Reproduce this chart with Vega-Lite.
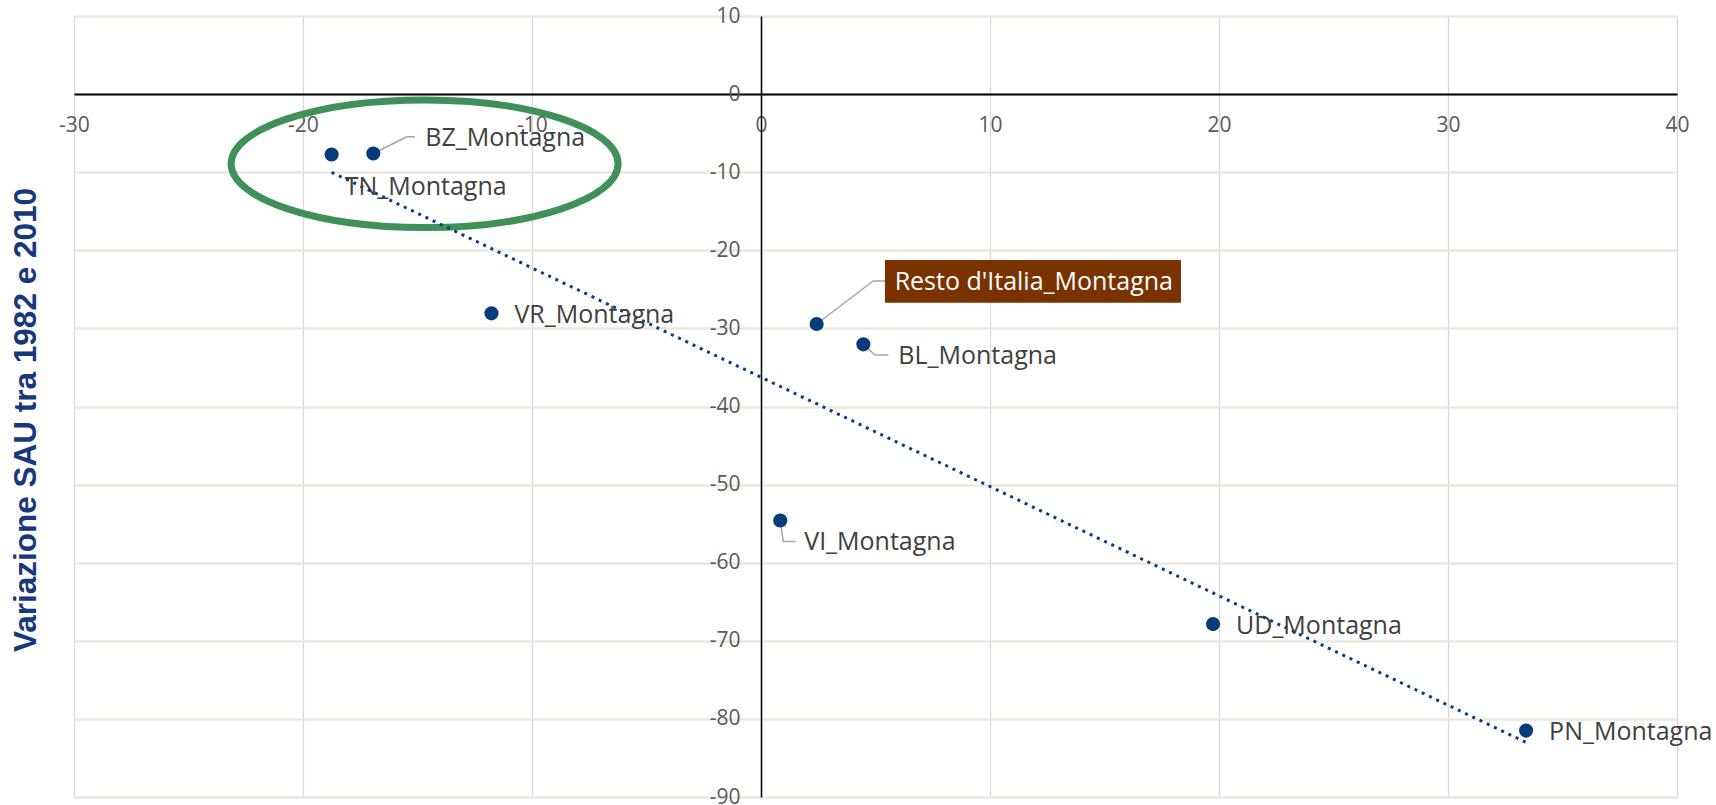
{
  "$schema": "https://vega.github.io/schema/vega-lite/v6.json",
  "width": 1603,
  "height": 781,
  "autosize": {"type": "none"},
  "padding": {"left": 74, "top": 16, "right": 39, "bottom": 8},
  "background": "white",
  "config": {
    "view": {"stroke": null},
    "text": {"font": "Open Sans", "fontSize": 25, "color": "#404040", "align": "left", "baseline": "middle"}
  },
  "datasets": {
    "pts": [
      {"name": "TN_Montagna", "var_x": -18.75, "var_sau": -7.73},
      {"name": "BZ_Montagna", "var_x": -16.93, "var_sau": -7.60},
      {"name": "VR_Montagna", "var_x": -11.77, "var_sau": -28.07},
      {"name": "Resto d'Italia_Montagna", "var_x": 2.43, "var_sau": -29.44},
      {"name": "BL_Montagna", "var_x": 4.47, "var_sau": -32.04},
      {"name": "VI_Montagna", "var_x": 0.84, "var_sau": -54.6},
      {"name": "UD_Montagna", "var_x": 19.74, "var_sau": -67.86},
      {"name": "PN_Montagna", "var_x": 33.41, "var_sau": -81.5}
    ],
    "ann": [{"var_x": -14.69, "var_sau": -8.92}]
  },
  "data": {"name": "pts"},
  "encoding": {
    "x": {"field": "var_x", "type": "quantitative", "scale": {"domain": [-30, 40], "nice": false, "zero": false}, "axis": null},
    "y": {"field": "var_sau", "type": "quantitative", "scale": {"domain": [-90, 10], "nice": false, "zero": false}, "axis": null}
  },
  "layer": [
    {
      "data": {"name": "ann"},
      "mark": {"type": "point", "shape": "M-1,0C-1,-0.182,-0.552,-0.33,0,-0.33C0.552,-0.33,1,-0.182,1,0C1,0.182,0.552,0.33,0,0.33C-0.552,0.33,-1,0.182,-1,0Z", "filled": false, "color": "#3f9159", "strokeWidth": 7, "size": 149769, "opacity": 1},
      "encoding": {
        "x": {"field": "var_x", "type": "quantitative", "scale": {"domain": [-30, 40], "nice": false, "zero": false},
          "axis": {"orient": "bottom", "grid": true, "gridColor": "#d9d9d9", "gridWidth": 1.3, "labels": false, "ticks": false, "domain": false, "title": null, "values": [-30, -20, -10, 0, 10, 20, 30, 40]}},
        "y": {"field": "var_sau", "type": "quantitative", "scale": {"domain": [-90, 10], "nice": false, "zero": false},
          "axis": {"orient": "left", "grid": true, "gridColor": "#ebe8dd", "gridWidth": 2.5, "labels": false, "ticks": false, "domain": false, "values": [-90, -80, -70, -60, -50, -40, -30, -20, -10, 0, 10],
            "title": "Variazione SAU tra 1982 e 2010", "titleFont": "Liberation Sans", "titleFontSize": 31.5, "titleFontWeight": "bold", "titleColor": "#17387a", "titleX": -48, "titleY": 403.5, "titleAngle": 270, "titleAlign": "center", "titleBaseline": "middle"}}
      }
    },
    {
      "transform": [{"regression": "var_sau", "on": "var_x"}],
      "mark": {"type": "line", "color": "#0a3d7d", "strokeWidth": 3, "strokeDash": [3, 5]},
      "encoding": {}
    },
    {
      "transform": [{"filter": {"field": "name", "equal": "BZ_Montagna"}}],
      "mark": {"type": "point", "shape": "M0,0L0.668,-0.332L0.834,-0.332", "filled": false, "color": "#a6a6a6", "strokeWidth": 1.5, "size": 10000, "opacity": 1}
    },
    {
      "transform": [{"filter": {"field": "name", "equal": "Resto d'Italia_Montagna"}}],
      "mark": {"type": "point", "shape": "M0,0L1.132,-0.86L1.386,-0.86", "filled": false, "color": "#a6a6a6", "strokeWidth": 1.5, "size": 10000, "opacity": 1}
    },
    {
      "transform": [{"filter": {"field": "name", "equal": "BL_Montagna"}}],
      "mark": {"type": "point", "shape": "M0,0L0.234,0.214L0.5,0.214", "filled": false, "color": "#a6a6a6", "strokeWidth": 1.5, "size": 10000, "opacity": 1}
    },
    {
      "transform": [{"filter": {"field": "name", "equal": "VI_Montagna"}}],
      "mark": {"type": "point", "shape": "M0,0L0.06,0.42L0.306,0.42", "filled": false, "color": "#a6a6a6", "strokeWidth": 1.5, "size": 10000, "opacity": 1}
    },
    {
      "mark": {"type": "circle", "size": 200, "color": "#073b7a", "opacity": 1},
      "encoding": {
        "x": {"field": "var_x", "type": "quantitative", "scale": {"domain": [-30, 40], "nice": false, "zero": false},
          "axis": {"orient": "bottom", "offset": {"expr": "scale('y', 0) - height"}, "grid": false, "domain": true, "domainColor": "#000000", "domainWidth": 2, "ticks": false, "tickSize": 0, "labelFont": "Open Sans", "labelFontSize": 21, "labelColor": "#595959", "labelPadding": 31, "labelBaseline": "middle", "labelFlush": false, "labelOverlap": false, "labelExpr": "datum.value + ''", "values": [-30, -20, -10, 0, 10, 20, 30, 40], "title": null}},
        "y": {"field": "var_sau", "type": "quantitative", "scale": {"domain": [-90, 10], "nice": false, "zero": false},
          "axis": {"orient": "left", "offset": {"expr": "-scale('x', 0)"}, "grid": false, "domain": true, "domainColor": "#000000", "domainWidth": 1.5, "ticks": false, "tickSize": 0, "labelFont": "Open Sans", "labelFontSize": 21, "labelColor": "#595959", "labelPadding": 21, "labelOverlap": false, "labelFlush": false, "labelExpr": "datum.value + ''", "values": [-90, -80, -70, -60, -50, -40, -30, -20, -10, 0, 10], "title": null}}
      }
    },
    {
      "transform": [{"filter": {"field": "name", "equal": "Resto d'Italia_Montagna"}}],
      "mark": {"type": "point", "shape": "M-1,-0.144H1V0.144H-1Z", "filled": true, "color": "#7a3300", "strokeWidth": 0, "size": 87616, "opacity": 1, "xOffset": 216.3, "yOffset": -42.7}
    },
    {
      "transform": [{"filter": {"field": "name", "oneOf": ["VR_Montagna", "UD_Montagna", "PN_Montagna"]}}],
      "mark": {"type": "text", "dx": 23, "dy": 1.5},
      "encoding": {"text": {"field": "name"}}
    },
    {
      "transform": [{"filter": {"field": "name", "equal": "BZ_Montagna"}}],
      "mark": {"type": "text", "dx": 52, "dy": -15},
      "encoding": {"text": {"field": "name"}}
    },
    {
      "transform": [{"filter": {"field": "name", "equal": "TN_Montagna"}}],
      "mark": {"type": "text", "dx": 13, "dy": 33},
      "encoding": {"text": {"field": "name"}}
    },
    {
      "transform": [{"filter": {"field": "name", "equal": "BL_Montagna"}}],
      "mark": {"type": "text", "dx": 35, "dy": 11.5},
      "encoding": {"text": {"field": "name"}}
    },
    {
      "transform": [{"filter": {"field": "name", "equal": "VI_Montagna"}}],
      "mark": {"type": "text", "dx": 24, "dy": 21},
      "encoding": {"text": {"field": "name"}}
    },
    {
      "transform": [{"filter": {"field": "name", "equal": "Resto d'Italia_Montagna"}}],
      "mark": {"type": "text", "dx": 78, "dy": -42, "color": "#ffffff"},
      "encoding": {"text": {"field": "name"}}
    }
  ],
  "resolve": {"axis": {"x": "independent", "y": "independent"}}
}
